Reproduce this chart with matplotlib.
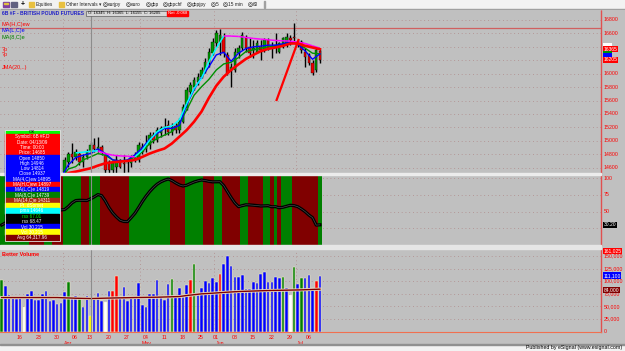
import matplotlib
matplotlib.use("Agg")
import matplotlib.pyplot as plt
from matplotlib.patches import Rectangle
from matplotlib.collections import LineCollection
import numpy as np

plt.rcParams['font.family'] = ['Liberation Sans', 'DejaVu Sans']

# daily bars 6B #F, Mar 9 .. Jul 9 (bar index 0..86)
opens = [
    13950, 14000, 14050, 14020, 13950, 14080, 14200, 14150, 14200, 14550,
    14450, 14400, 14600, 14500, 14250, 14350, 14300, 14540, 14690, 14810,
    14760, 14810, 14690, 14760, 14835, 14935, 14885, 14910, 14785, 14690,
    14565, 14615, 14715, 14665, 14665, 14665, 14785, 14715, 14910, 14885,
    14935, 15085, 15010, 15110, 15185, 15235, 15135, 15220, 15160, 15285,
    15485, 15730, 15805, 15880, 15955, 16030, 16155, 16305, 16450, 16475,
    16550, 16280, 16055, 16055, 16305, 16380, 16525, 16400, 16355, 16330,
    16400, 16355, 16500, 16380, 16400, 16330, 16400, 16425, 16525, 16550,
    16425, 16475, 16330, 16280, 16155, 16055, 16345]
highs = [
    14050, 14100, 14150, 14080, 14100, 14250, 14300, 14250, 14600, 14700,
    14550, 14650, 14700, 14550, 14400, 14450, 14500, 14760, 14835, 14960,
    14885, 14835, 14810, 14885, 14985, 15035, 15060, 14935, 14810, 14715,
    14690, 14785, 14735, 14785, 14735, 14785, 14835, 14985, 14960, 15085,
    15135, 15135, 15210, 15220, 15335, 15310, 15260, 15260, 15335, 15555,
    15805, 15880, 15955, 16005, 16105, 16230, 16380, 16525, 16650, 16660,
    16600, 16330, 16155, 16380, 16425, 16625, 16575, 16525, 16500, 16500,
    16500, 16525, 16525, 16475, 16600, 16475, 16550, 16600, 16575, 16750,
    16500, 16500, 16380, 16305, 16205, 16380, 16365]
lows = [
    13850, 13900, 13950, 13900, 13920, 14050, 14100, 14050, 14150, 14400,
    14300, 14350, 14450, 14200, 14150, 14200, 14250, 14505, 14615, 14665,
    14715, 14640, 14615, 14735, 14810, 14835, 14835, 14785, 14515, 14515,
    14505, 14515, 14590, 14515, 14540, 14615, 14690, 14690, 14810, 14835,
    14885, 14960, 14985, 15060, 15085, 15085, 15085, 15110, 15110, 15260,
    15460, 15680, 15755, 15830, 15930, 16005, 16105, 16280, 16400, 16280,
    16255, 15980, 15805, 16030, 16230, 16355, 16330, 16255, 16230, 16305,
    16205, 16330, 16355, 16230, 16305, 16305, 16380, 16400, 16425, 16450,
    16400, 16305, 16105, 16130, 15980, 16030, 16155]
closes = [
    14000, 14050, 14020, 13950, 14080, 14200, 14150, 14200, 14550, 14450,
    14400, 14600, 14500, 14250, 14350, 14300, 14450, 14715, 14810, 14760,
    14835, 14690, 14760, 14835, 14935, 14885, 14910, 14835, 14565, 14565,
    14665, 14715, 14615, 14655, 14675, 14760, 14715, 14935, 14835, 14920,
    15085, 15010, 15160, 15185, 15210, 15135, 15210, 15160, 15285, 15510,
    15755, 15830, 15905, 15955, 16055, 16180, 16330, 16475, 16600, 16575,
    16305, 16005, 16105, 16330, 16380, 16575, 16380, 16305, 16380, 16450,
    16355, 16500, 16380, 16400, 16425, 16450, 16525, 16550, 16500, 16525,
    16475, 16355, 16255, 16155, 16005, 16355, 16205]

# moving averages, read every 2nd bar
ma_x = [0, 4, 8, 12, 16, 18, 20, 22, 24, 26, 28, 30, 32, 34, 36, 38, 40, 42, 44, 46,
        48, 50, 52, 54, 56, 58, 60, 62, 64, 66, 68, 70, 72, 74, 76, 78, 80, 82, 84, 86]
ma_red = [13950, 14000, 14100, 14250, 14380, 14520, 14540, 14565, 14590, 14630,
          14665, 14680, 14690, 14700, 14715, 14760, 14810, 14850, 14885, 14960,
          15060, 15160, 15285, 15435, 15640, 15820, 15955, 16055, 16140, 16220,
          16280, 16335, 16370, 16390, 16415, 16450, 16450, 16415, 16390, 16365]
ma_green = [13980, 14030, 14250, 14420, 14420, 14580, 14615, 14715, 14760, 14810,
            14785, 14715, 14690, 14700, 14760, 14835, 14960, 15035, 15085, 15135,
            15260, 15460, 15680, 15805, 15915, 16055, 16145, 16170, 16240, 16330,
            16355, 16380, 16400, 16410, 16435, 16465, 16455, 16380, 16305, 16295]
ma_blue = [14000, 14050, 14350, 14400, 14450, 14640, 14750, 14785, 14810, 14880,
           14810, 14715, 14700, 14715, 14790, 14895, 15025, 15110, 15185, 15185,
           15230, 15535, 15765, 15945, 16105, 16280, 16320, 16185, 16305, 16375,
           16400, 16410, 16425, 16425, 16445, 16470, 16440, 16340, 16215, 16295]
hma_x = [20, 22, 24, 26, 28, 30, 32, 34, 36, 38, 40, 42, 44, 46, 48, 50, 52,
         54, 56, 58, 60, 62, 64, 66, 68, 70, 72, 74, 76, 78, 80, 82, 84, 86]
ma_high = [14820, 14830, 14845, 14850, 14810, 14785, 14775, 14770, 14760, 14860,
           15010, 15135, 15200, 15220, 15310, 15555, 15780, 15930, 16180, 16380,
           16560, 16560, 16555, 16540, 16525, 16515, 16505, 16495, 16490, 16485,
           16470, 16450, 16415, 16380]

trend_x = [74.3, 80.2]
trend_y = [15608, 16502]
red_level = 16680

osc = [30, 33, 38, 45, 52, 58, 62, 64, 62, 59,
       57, 55, 56, 57, 55.5, 54, 52.5, 53, 57.5, 63,
       66.5, 67, 66.8, 66.6, 69, 72, 75.5, 74, 66, 56,
       48, 42, 37, 35.2, 35, 41, 47.4, 56, 65, 73,
       80, 86, 91, 94.5, 97, 98.8, 96.5, 93, 90, 88.3,
       89.5, 92, 94.3, 96, 97.3, 96.5, 95.3, 94.5, 94.6, 94.7,
       89, 80, 71, 63, 57.4, 58.9, 60.2, 60, 59.6, 59,
       58.4, 58.6, 58.8, 57.2, 57.4, 55.8, 56.5, 58, 59.5, 59,
       57.4, 54, 50, 45, 41, 29.8, 30.2]
osc_dir = ("gggggggg" "rrrr" "gg" "rrr" "ggggg" "rr" "ggg" "rrrrrrrr" "ggggggggggg"
           "rrrr" "ggggg" "rrr" "gg" "rrrrr" "gg" "rrrr" "gg" "r" "g" "r" "ggg"
           "rrrrrrr" "g")

volume = [102500, 91000, 72700, 69400, 64800, 67500, 48300, 74700, 81300, 62800,
          62800, 74700, 81300, 60800, 62800, 54900, 56200, 77400, 97900, 66100,
          71400, 66100, 49600, 71400, 29800, 68100, 76100, 61500, 58200, 79400,
          79400, 110500, 68100, 88000, 61500, 69400, 69400, 95900, 52900, 49600,
          74700, 74700, 102500, 69400, 62800, 94600, 103800, 69400, 86000, 68100,
          92600, 102500, 133600, 74100, 86000, 100500, 97200, 105800, 97900, 114400,
          134300, 150800, 130300, 109100, 109100, 112400, 84700, 84700, 97900, 95900,
          114400, 118400, 97900, 99200, 107800, 105800, 107800, 86000, 72700, 127700,
          93300, 105800, 105800, 111800, 86000, 100500, 111100]
vol_kind = ("gbbbbbwbbbbbbbbbbbgbbgbbybbbwbrr" "bbbbbbbbbbbbbb" "gbbbbrg" "bbbbbb" "r"
            "bbbbbbbbbbbbbbbb" "gbwgbgbbbrb")
vma_x = [0, 15, 20, 24, 30, 36, 42, 45, 48, 50, 54, 57, 61, 64, 72, 81, 86]
vma = [67400, 67400, 66000, 65400, 66500, 67400, 68000, 68700, 69400, 71400,
       74700, 76000, 78000, 79300, 81300, 82600, 84000]

day_pos = [5, 10, 15, 20, 24, 29, 34, 39, 44, 49, 54, 58, 63, 68, 73, 78, 83]
day_lbl = ['16', '23', '30', '06', '13', '20', '27', '04', '11', '18', '25',
           '01', '08', '15', '22', '29', '06']
month_pos = [16.5, 37.5, 57.5, 79.5]
month_lbl = ['Apr', 'May', 'Jun', 'Jul']
cursor_bar = 24

price_ticks = [16800, 16600, 16000, 15800, 15600, 15400, 15200, 15000, 14800, 14600]
price_grid = [14600, 14800, 15000, 15200, 15400, 15600, 15800, 16000, 16200, 16400, 16600, 16800]
osc_ticks = [100, 75, 50]
osc_grid = [25, 50, 75, 100]
vol_ticks = [150000, 125000, 100000, 75000, 50000, 25000, 0]

W, H = 625, 351
BG = '#c0c0c0'
GRID = '#b08a8a'
fig = plt.figure(figsize=(W / 100, H / 100), dpi=100, facecolor=BG)


def fig_rect(x0, y0, x1, y1, **kw):
    fig.add_artist(Rectangle((x0 / W, 1 - y1 / H), (x1 - x0) / W, (y1 - y0) / H,
                             transform=fig.transFigure, **kw))


def fig_text(x, y, s, **kw):
    kw.setdefault('fontsize', 4)
    kw.setdefault('va', 'center')
    fig.text(x / W, 1 - y / H, s, **kw)


def panel(top, bottom, ylim):
    ax = fig.add_axes([0, 1 - bottom / H, 601 / W, (bottom - top) / H])
    ax.set_facecolor(BG)
    ax.set_xlim(-0.46, 161.97)
    ax.set_ylim(*ylim)
    ax.set_xticks([])
    ax.set_yticks([])
    for s in ax.spines.values():
        s.set_visible(False)
    ax.spines['right'].set_visible(True)
    ax.spines['right'].set_color('#e05050')
    ax.spines['right'].set_linewidth(1.0)
    for m in month_pos:
        ax.axvline(m, color=GRID, lw=0.6, ls=(0, (1, 3.5)), zorder=0.5)
    ax.axvline(cursor_bar, color='#8c8c8c', lw=0.8, zorder=5)
    return ax


def tag(ax, y, s, bg, fg='white'):
    ax.text(1.004, y, s, transform=ax.get_yaxis_transform(), fontsize=3.6, color=fg,
            va='center', ha='left', zorder=10,
            bbox=dict(boxstyle='square,pad=0.12', fc=bg, ec='none'))


idx = np.arange(len(closes))
o = np.array(opens)
c = np.array(closes)

# ---------- price panel ----------
ax_p = panel(10, 173, (14520, 16949))
for g in price_grid:
    ax_p.axhline(g, color=GRID, lw=0.6, ls=(0, (1, 3.5)), zorder=0.5)
ax_p.axhline(red_level, color='#d06060', lw=0.9, zorder=1)
ax_p.vlines(idx, lows, highs, color='black', lw=1.0, zorder=2)
body_lo = np.minimum(o, c)
body_h = np.maximum(np.abs(c - o), 8)
ax_p.bar(idx, body_h, bottom=body_lo, width=0.66,
         color=np.where(c >= o, '#009a00', '#ee0000'), edgecolor='black', lw=0.25, zorder=3)
ax_p.plot(ma_x, ma_green, color='#009000', lw=1.0, zorder=4)
ax_p.plot(ma_x, ma_blue, color='#0000ff', lw=1.0, zorder=4)
segs = [[(hma_x[k], ma_high[k]), (hma_x[k + 1], ma_high[k + 1])] for k in range(len(hma_x) - 1)]
seg_col = ['#00ffff' if ma_high[k + 1] > ma_high[k] else '#ff00ff' for k in range(len(hma_x) - 1)]
ax_p.add_collection(LineCollection(segs, colors=seg_col, lw=1.1, zorder=4))
ax_p.plot(ma_x, ma_red, color='#ff0000', lw=1.9, zorder=4)
ax_p.plot(trend_x, trend_y, color='#ff0000', lw=1.6, zorder=4)

for v in price_ticks:
    ax_p.text(1.004, v, str(v), transform=ax_p.get_yaxis_transform(), fontsize=3.8,
              color='#ff0000', va='center', ha='left')
tag(ax_p, ma_high[-1] + 30, '      ', '#ffffff')
tag(ax_p, ma_red[-1], str(ma_red[-1]), '#ff0000')
tag(ax_p, ma_green[-1], '      ', '#009000')
tag(ax_p, ma_blue[-1] - 40, '      ', '#0000ff')
tag(ax_p, closes[-1], str(closes[-1]), '#ff0000')

# ---------- oscillator panel ----------
ax_o = panel(175, 245, (0, 104.8))
for g in osc_grid:
    ax_o.axhline(g, color=GRID, lw=0.6, ls=(0, (1, 3.5)), zorder=0.5)
ax_o.bar(idx, 110, bottom=-3, width=1.0, lw=0,
         color=['#008000' if k == 'g' else '#800000' for k in osc_dir], zorder=1)
ax_o.plot(idx, osc, color='black', lw=2.3, zorder=3)
ax_o.plot(idx, osc, color='#555555', lw=0.4, zorder=3)
for v in osc_ticks:
    ax_o.text(1.004, v, str(v), transform=ax_o.get_yaxis_transform(), fontsize=3.8,
              color='#ff0000', va='center', ha='left')
tag(ax_o, osc[-1], f'{osc[-1]:.2f}', '#000000')

# ---------- volume panel ----------
ax_v = panel(249, 332, (-990, 163700))
ax_v.spines['bottom'].set_visible(True)
ax_v.spines['bottom'].set_color('#f07050')
for g in vol_ticks[:-1]:
    ax_v.axhline(g, color=GRID, lw=0.6, ls=(0, (1, 3.5)), zorder=0.5)
vcol = {'b': '#0000ff', 'g': '#008000', 'r': '#ff0000', 'w': '#ffffff', 'y': '#ffff00'}
ax_v.bar(idx, volume, width=0.7, color=[vcol[k] for k in vol_kind],
         edgecolor='#f2eec8', lw=0.35, zorder=2)
ax_v.plot(vma_x, vma, color='#e6d8c4', lw=2.2, zorder=3)
ax_v.plot(vma_x, vma, color='#800000', lw=1.0, zorder=3)
for v in vol_ticks:
    ax_v.text(1.004, v, f'{v:,}', transform=ax_v.get_yaxis_transform(), fontsize=3.8,
              color='#ff0000', va='center', ha='left')
tag(ax_v, 160500, '161,025', '#ff0000')
tag(ax_v, volume[-1], f'{volume[-1]:,}', '#0000ff')
tag(ax_v, vma[-1] - 1500, f'{vma[-1]:,}', '#800000')
ax_v.text(0.003, 0.93, 'Better Volume', transform=ax_v.transAxes, fontsize=4,
          color='#ff0000', fontweight='bold', va='center')

xt = ax_v.get_xaxis_transform()
for p, s in zip(day_pos, day_lbl):
    ax_v.text(p - 0.15, -0.04, s, transform=xt, fontsize=3.8, color='#ff0000',
              ha='center', va='top')
for p, s in zip(month_pos, month_lbl):
    ax_v.text(p + 0.3, -0.11, s, transform=xt, fontsize=3.8, color='#ff0000',
              ha='left', va='top')

# ---------- frame pieces ----------
fig_rect(0, 173.2, 601, 175, color='#ececec', zorder=6)
fig_rect(0, 245.3, 601, 248.6, color='#e6e6e6', zorder=6)
fig_rect(0, 0, W, 9, color='#f2f2f2', zorder=6)
fig_rect(0, 8.6, W, 9.4, color='#a0a0a0', zorder=6)
fig_rect(0, 344.5, W, H, color='#f2f2f2', zorder=6)
fig_rect(0, 344.2, W, 345, color='#909090', zorder=6)
fig_text(622, 348, 'Published by eSignal (www.esignal.com)', fontsize=3.8,
         ha='right', zorder=7)

# toolbar
fig_rect(3, 2, 9, 7, color='#8040a0', zorder=7)
fig_rect(4, 2.5, 8, 4, color='#e0c040', zorder=7)
fig_rect(11, 2, 17, 7, color='#606080', zorder=7)
fig_text(23, 4.6, '+', fontsize=5, fontweight='bold', ha='center', zorder=7)
tool_items = [(29, 'folder', 'Equities'), (59, 'folder', 'Other Intervals \u25be'),
              (103, 'clock', 'eurjpy'), (126, 'clock', 'euro'), (146, 'clock', 'gbp'),
              (163, 'clock', 'gbpchf'), (187, 'clock', 'gbpjpy'), (211, 'clock', '5'),
              (223, 'clock', '15 min'), (248, 'clock', '60')]
for x, kind, s in tool_items:
    if kind == 'folder':
        fig_rect(x, 2.3, x + 5, 6.8, color='#e8c040', zorder=7)
        fig_text(x + 6.5, 4.6, s, fontsize=3.4, color='#202020', zorder=7)
    else:
        fig_text(x + 2, 4.6, '\u25ce', fontsize=4.2, ha='center', zorder=7)
        fig_text(x + 5.2, 4.6, s, fontsize=3.4, color='#202020', zorder=7)
fig_rect(264, 1, 264.6, 8, color='#a0a0a0', zorder=7)

# title + ohlc strip
fig_text(2, 13.2, '6B #F - BRITISH POUND FUTURES', fontsize=3.6, color='#2020c8',
         fontweight='bold', zorder=7)
fig_rect(86, 10.8, 167, 15.8, facecolor='#d8d8d8', edgecolor='#404040', lw=0.4, zorder=7)
fig_text(88, 13.3, f'O: {opens[-1]}  H: {highs[-1]}  L: {lows[-1]}  C: {closes[-1]}',
         fontsize=3.0, zorder=8)
fig_rect(167, 10.8, 188, 15.8, color='#ff0000', zorder=7)
fig_text(177.5, 13.3, 'Net -0.068', fontsize=3.0, color='white', ha='center', zorder=8)

# study labels
fig_text(2, 24.8, 'MA(H,C)ew', color='#ff0000', zorder=7)
fig_text(2, 30.8, 'MA(L,C)e', color='#0000ff', zorder=7)
fig_text(2, 37, 'MA(8,C)e', color='#008000', zorder=7)
fig_text(2, 49, '?p', color='#ff0000', zorder=7)
fig_text(2, 54.7, '?p', color='#ff0000', zorder=7)
fig_text(2, 67, 'JMA(20,..)', color='#ff0000', zorder=7)

# cursor info window
info_rows = [
    ('Symbol: 6B #F,D', '#ff0000', 'white'), ('Date: 04/13/09', '#ff0000', 'white'),
    ('Time: 00:00', '#ff0000', 'white'), ('Price: 14685', '#ff0000', 'white'),
    ('Open 14850', '#0000ff', 'white'), ('High 14946', '#0000ff', 'white'),
    ('Low 14814', '#0000ff', 'white'), ('Close 14937', '#0000ff', 'white'),
    ('MA(4,C)ew 14895', '#0000ff', 'white'), ('MA(H,C)ew 14897', '#ff0000', 'white'),
    ('MA(L,C)e 14819', '#0000ff', 'white'), ('MA(8,C)e 14739', '#008000', 'white'),
    ('MA(14,C)e 14311', '#a82810', 'white'), ('Pt. dSomet', '#ffff00', 'white'),
    ('pma 14646', '#00ffff', 'white'), ('rsx 67.01', '#000000', '#00ff00'),
    ('rsx 68.47', '#000000', 'white'), ('Vol 30,215', '#0000ff', 'white'),
    ('Vol 30,215', '#ffff00', 'white'), ('Avg 64,317.96', '#800000', 'white')]
fig_rect(4.5, 130.2, 59.5, 240.5, facecolor='none', edgecolor='#e0e0e0', lw=0.6, zorder=9)
fig_rect(5, 130.7, 59, 134.3, color='#00ff00', zorder=8)
fig_text(32, 132.5, 'OK', fontsize=3.2, ha='center', zorder=9)
rh = (240 - 134.3) / len(info_rows)
for k, (s, bg, fg) in enumerate(info_rows):
    y0 = 134.3 + k * rh
    fig_rect(5, y0, 59, y0 + rh, color=bg, zorder=8)
    fig_text(32, y0 + rh / 2, s, fontsize=3.3, color=fg, ha='center', zorder=9)

fig.savefig('out.png', dpi=100, facecolor=BG)
